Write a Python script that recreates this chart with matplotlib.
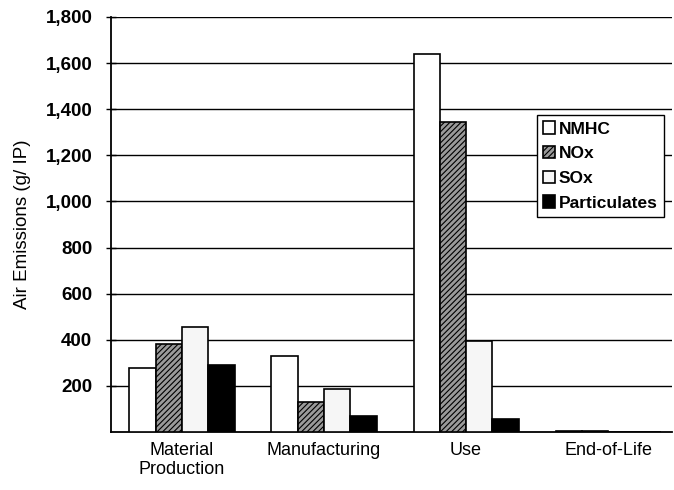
import matplotlib.pyplot as plt
import numpy as np

plt.rcParams['font.family'] = ['Liberation Sans', 'DejaVu Sans']
plt.rcParams['hatch.color'] = '#333333'
plt.rcParams['hatch.linewidth'] = 0.8

# Air emissions per life-cycle stage (g / IP)
stages = ['Material\nProduction', 'Manufacturing', 'Use', 'End-of-Life']
nmhc = [278, 330, 1639, 5]
nox = [383, 130, 1343, 3]
sox = [457, 187, 396, 2]
particulates = [291, 70, 57, 1]
series_names = ['NMHC', 'NOx', 'SOx', 'Particulates']

fig = plt.figure(figsize=(6.74, 4.9), dpi=100)
ax = fig.add_axes([0.1647, 0.1184, 0.8323, 0.847])

x = np.arange(len(stages))
w = 0.185
styles = [
    dict(facecolor='white', hatch=None),
    dict(facecolor='#9a9a9a', hatch='//////'),
    dict(facecolor='#f6f6f6', hatch=None),
    dict(facecolor='black', hatch=None),
]
for i, (vals, name, st) in enumerate(zip([nmhc, nox, sox, particulates], series_names, styles)):
    ax.bar(x + (i - 1.5) * w, vals, w, label=name, edgecolor='black',
           linewidth=1.2, zorder=3, **st)

ax.set_xlim(-0.5, 3.45)
ax.set_ylim(0, 1800)
ax.set_yticks(np.arange(200, 1801, 200))
ax.set_yticklabels([f'{v:,}' for v in range(200, 1801, 200)], fontweight='bold', fontsize=13.5)
ax.yaxis.grid(True, color='black', linewidth=1.0, zorder=0)
ax.set_axisbelow(True)
ax.tick_params(axis='y', direction='inout', length=7, width=1.0, pad=10)
ax.tick_params(axis='x', length=0, pad=7)
ax.set_xticks(x)
ax.set_xticklabels(stages, fontsize=13)
ax.set_ylabel('Air Emissions (g/ IP)', fontsize=13.5)
ax.yaxis.set_label_coords(-0.143, 0.5)

for s in ['top', 'right']:
    ax.spines[s].set_visible(False)
ax.spines['left'].set_linewidth(1.3)
ax.spines['bottom'].set_linewidth(1.3)

leg = ax.legend(loc='upper right', bbox_to_anchor=(0.985, 0.763), frameon=True,
                fancybox=False, edgecolor='black', framealpha=1,
                prop={'weight': 'bold', 'size': 12.5}, handlelength=0.7,
                handleheight=0.7, handletextpad=0.2, borderpad=0.35,
                labelspacing=0.55, borderaxespad=0)
leg.get_frame().set_linewidth(1.0)

fig.savefig('out.png', dpi=100)
